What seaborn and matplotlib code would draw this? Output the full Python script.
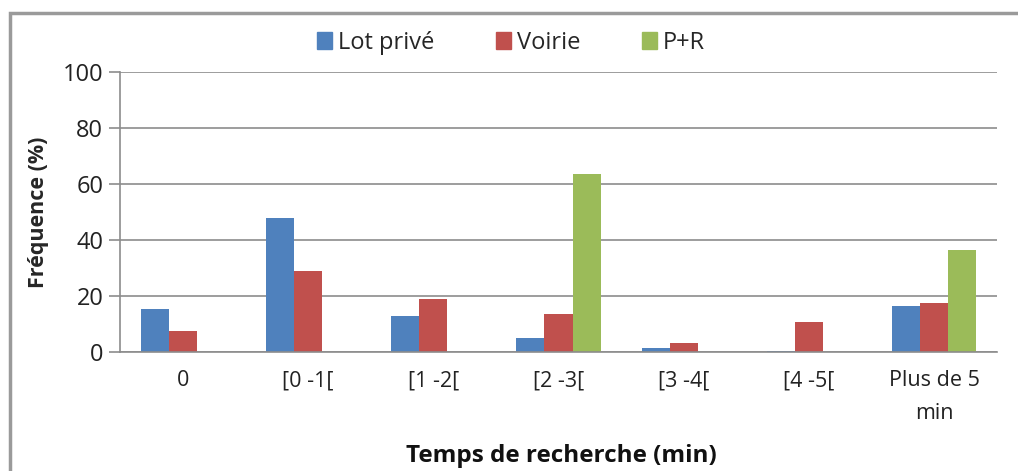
import matplotlib
matplotlib.use("Agg")
import matplotlib.pyplot as plt
from matplotlib.patches import Rectangle
import pandas as pd
import seaborn as sns

# Search-time classes and share of drivers (%) per parking type
categories = ["0", "[0 -1[", "[1 -2[", "[2 -3[", "[3 -4[", "[4 -5[", "Plus de 5\nmin"]
series = ["Lot privé", "Voirie", "P+R"]
lot_prive = [15.3, 48.0, 12.9, 5.1, 1.3, 0.5, 16.5]
voirie = [7.5, 29.1, 18.9, 13.4, 3.2, 10.6, 17.5]
p_plus_r = [0.0, 0.0, 0.0, 63.4, 0.0, 0.0, 36.5]
colors = ["#4F81BD", "#C0504D", "#9BBB59"]
y_ticks = [0, 20, 40, 60, 80, 100]

df = pd.DataFrame({
    "Temps": categories * 3,
    "Type": [s for s in series for _ in categories],
    "Frequence": lot_prive + voirie + p_plus_r,
})

sns.set_style("white")
plt.rcParams["font.family"] = ["Open Sans", "DejaVu Sans"]

fig = plt.figure(figsize=(10.18, 4.71), dpi=100)
ax = fig.add_axes([0.1179, 0.2527, 0.8615, 0.5944])

sns.barplot(data=df, x="Temps", y="Frequence", hue="Type", order=categories,
            hue_order=series, palette=colors, saturation=1, width=0.672,
            linewidth=0, ax=ax, legend=False)

ax.set_ylim(0, 100)
ax.set_xlim(-0.5, len(categories) - 0.5)
ax.set_yticks(y_ticks)
ax.yaxis.grid(True, color="#8c8c8c", linewidth=1.2)
ax.set_axisbelow(True)
for side in ["top", "right"]:
    ax.spines[side].set_visible(False)
for side in ["left", "bottom"]:
    ax.spines[side].set_color("#8c8c8c")
    ax.spines[side].set_linewidth(1.2)

ax.tick_params(axis="y", length=8, width=1.2, color="#8c8c8c", labelsize=17,
               labelcolor="#222222", pad=4, direction="out", left=True)
ax.tick_params(axis="x", length=0, labelsize=15.5, labelcolor="#222222", pad=13)
for lbl in ax.get_xticklabels():
    lbl.set_verticalalignment("top")
    lbl.set_linespacing(1.75)

ax.set_ylabel("Fréquence (%)", fontsize=15.5, fontweight="bold", labelpad=10)
ax.set_xlabel("")
fig.text(0.551, 0.032, "Temps de recherche (min)", ha="center", va="center",
         fontsize=17.5, fontweight="bold", color="#111111")

handles = [Rectangle((0, 0), 1, 1, color=c) for c in colors]
fig.legend(handles, series, loc="center", bbox_to_anchor=(0.502, 0.909),
           ncol=3, frameon=False, fontsize=17, handlelength=0.65,
           handleheight=0.75, handletextpad=0.25, columnspacing=2.6)

# Chart frame around the whole graphic
fig.patches.append(Rectangle((10 / 1018, -0.1), 1.1, 1.1 - 13 / 471,
                             transform=fig.transFigure, fill=False,
                             edgecolor="#9a9a9a", linewidth=2.5, zorder=0))

fig.savefig("out.png", dpi=100, facecolor="white")
